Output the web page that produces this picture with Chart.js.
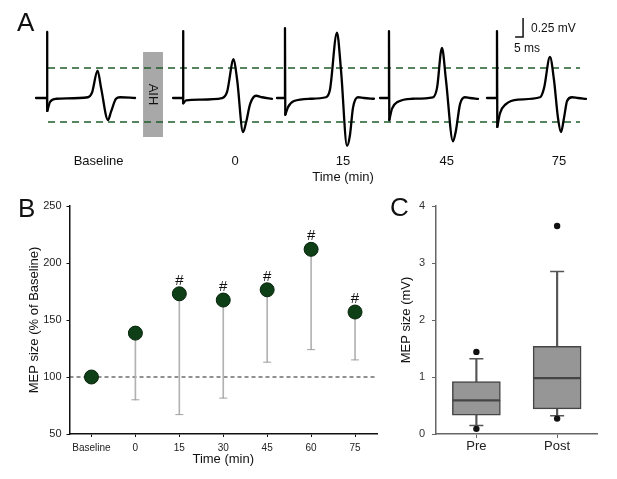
<!DOCTYPE html>
<html>
<head>
<meta charset="utf-8">
<script src="https://cdn.jsdelivr.net/npm/chart.js@4.4.1/dist/chart.umd.min.js"></script>
<style>
  body { margin: 0; background: #fff; }
  #fig { position: relative; width: 617px; height: 479px; overflow: hidden; font-family: "Liberation Sans", Arial, sans-serif; }
  #fig canvas { position: absolute; }
  .panel { position: absolute; font-size: 26px; line-height: 26px; color: #111; }
</style>
</head>
<body>
<div id="fig">
  <canvas id="traces" width="617" height="190" style="left:0px;top:0px"></canvas>
  <canvas id="timecourse" width="385" height="289" style="left:0px;top:190px"></canvas>
  <canvas id="boxes" width="247" height="289" style="left:370px;top:190px"></canvas>
  <div class="panel" style="left:17px;top:9px">A</div>
  <div class="panel" style="left:18px;top:195px">B</div>
  <div class="panel" style="left:390px;top:194px">C</div>
</div>
<script>
Chart.defaults.font.family = '"Liberation Sans", Arial, sans-serif';
Chart.defaults.color = '#111';

// ---- panel A : example MEP traces (time in ms, amplitude in mV) ----
const traceLabels = ['Baseline', '0', '15', '45', '75'];
const traceTitle = 'Time (min)';
const traceOnsetMs = [29.4, 114.4, 178.1, 243.1, 310.6];
const traceLeadMs = [6.9, 6.25, 5.0, 5.6, 6.25];
const artifactTopMv = [0.87, 0.88, 0.92, 0.88, 0.88];
const labelAtMs = [61.6, 146.9, 214.4, 279.2, 349.4];

// [ms after stimulus, mV]
const mepBaseline = [[0.2, -0.17], [1.9, -0.05], [5.6, -0.01], [25.6, 0.01], [28.1, 0.07], [31.6, 0.36], [33.8, 0.13], [38.1, -0.29], [40.0, -0.18], [43.1, -0.01], [45.6, 0.01], [55.0, 0]];
const mep0 = [[0.2, -0.07], [1.9, -0.03], [10.6, -0.02], [24.4, 0], [27.5, 0.08], [31.6, 0.51], [33.8, 0.24], [37.5, -0.45], [39.4, -0.32], [41.9, -0.08], [45.6, 0.03], [49.4, 0.01], [55.6, -0.01]];
const mep15 = [[0.2, -0.22], [1.9, -0.12], [5.6, -0.04], [15.6, -0.01], [25.6, 0.01], [28.1, 0.11], [32.5, 0.86], [35.0, 0.37], [38.8, -0.63], [40.6, -0.49], [42.5, -0.13], [45.6, 0.01], [49.4, 0], [55.6, -0.01]];
const mep45 = [[0.2, -0.29], [1.9, -0.14], [5.6, -0.05], [14.4, -0.01], [27.5, 0.01], [30.0, 0.13], [33.1, 0.66], [35.6, 0.24], [40.0, -0.57], [41.9, -0.42], [44.4, -0.08], [47.5, 0.01], [50.6, 0], [55.6, -0.01]];
const mep75 = [[0.2, -0.38], [1.9, -0.2], [5.6, -0.08], [13.1, -0.02], [26.9, 0.01], [29.4, 0.13], [33.1, 0.54], [35.6, 0.24], [38.1, -0.26], [40.0, -0.45], [41.9, -0.26], [43.8, -0.04], [46.9, 0.01], [50.6, 0], [55.6, -0.01]];
const mepTraces = [mepBaseline, mep0, mep15, mep45, mep75];

const guideMv = [0.395, -0.316];
const guideSpanMs = [30, 362.5];
const aihMs = [89.4, 101.9];
const aihMv = [0.605, -0.513];
const scaleBarAt = [326.9, 0.803];
const scaleBarMs = 5;
const scaleBarMv = 0.25;

// ---- panel B : MEP time course ----
const timeLabels = ['Baseline', '0', '15', '30', '45', '60', '75'];
const mepPercent = [100, 138.5, 173, 167.5, 176.5, 212, 157];
const mepLowerBound = [null, 80, 67, 81.5, 113, 124, 115];
const significant = [false, false, true, true, true, true, true];

// ---- panel C : MEP size box plot ----
const groupLabels = ['Pre', 'Post'];
const whiskerLow = [0.15, 0.32];
const boxQ1 = [0.33, 0.44];
const boxMedian = [0.59, 0.98];
const boxQ3 = [0.92, 1.54];
const whiskerHigh = [1.32, 2.85];
const outlierHigh = [1.44, 3.65];
const outlierLow = [0.09, 0.27];

//=====================================
// panel A
//=====================================
const traceSets = [];
mepTraces.forEach((mep, i) => {
  const on = traceOnsetMs[i];
  traceSets.push({
    data: [{x: on - traceLeadMs[i], y: 0}, {x: on, y: 0}, {x: on, y: artifactTopMv[i]}, {x: on + mep[0][0], y: mep[0][1]}],
    tension: 0, order: 1
  });
  traceSets.push({
    data: mep.map(p => ({x: on + p[0], y: p[1]})),
    cubicInterpolationMode: 'monotone', order: 1
  });
});
traceSets.forEach(d => Object.assign(d, {showLine: true, pointRadius: 0, borderColor: '#000', borderWidth: 2.3, borderJoinStyle: 'round', borderCapStyle: 'round'}));

const guideSets = guideMv.map(v => ({
  data: [{x: guideSpanMs[0], y: v}, {x: guideSpanMs[1], y: v}],
  showLine: true, pointRadius: 0, borderColor: '#1f5c2b', borderWidth: 1.6, borderDash: [7, 5], order: 5
}));

const aihSets = [
  {data: [{x: aihMs[0], y: aihMv[0]}, {x: aihMs[1], y: aihMv[0]}], fill: '+1'},
  {data: [{x: aihMs[0], y: aihMv[1]}, {x: aihMs[1], y: aihMv[1]}], fill: false}
];
aihSets.forEach(d => Object.assign(d, {showLine: true, pointRadius: 0, borderWidth: 0, borderColor: 'rgba(0,0,0,0)', backgroundColor: '#a8a8a8', order: 10}));

const scaleBarSet = {
  data: [{x: scaleBarAt[0] - scaleBarMs, y: scaleBarAt[1]}, {x: scaleBarAt[0], y: scaleBarAt[1]}, {x: scaleBarAt[0], y: scaleBarAt[1] + scaleBarMv}],
  showLine: true, pointRadius: 0, borderColor: '#111', borderWidth: 1.5, tension: 0, order: 1
};

const traceText = {
  id: 'traceText',
  afterDatasetsDraw(chart) {
    const {ctx, scales: {x, y}} = chart;
    ctx.save();
    ctx.fillStyle = '#111';
    ctx.font = '13px "Liberation Sans", Arial, sans-serif';
    ctx.textAlign = 'center';
    ctx.textBaseline = 'middle';
    ctx.translate(x.getPixelForValue((aihMs[0] + aihMs[1]) / 2), y.getPixelForValue((aihMv[0] + aihMv[1]) / 2));
    ctx.rotate(Math.PI / 2);
    ctx.fillText('AIH', 0, 0);
    ctx.restore();

    ctx.save();
    ctx.fillStyle = '#111';
    ctx.font = '12px "Liberation Sans", Arial, sans-serif';
    ctx.textAlign = 'left';
    ctx.textBaseline = 'middle';
    const bx = x.getPixelForValue(scaleBarAt[0]);
    const by = y.getPixelForValue(scaleBarAt[1]);
    ctx.fillText('0.25 mV', bx + 8, y.getPixelForValue(scaleBarAt[1] + scaleBarMv / 2) + 1);
    ctx.fillText('5 ms', x.getPixelForValue(scaleBarAt[0] - scaleBarMs) - 1, by + 12);
    ctx.restore();
  }
};

new Chart(document.getElementById('traces'), {
  type: 'scatter',
  data: {datasets: [...aihSets, ...guideSets, ...traceSets, scaleBarSet]},
  options: {
    responsive: false,
    animation: false,
    layout: {padding: 0},
    plugins: {legend: {display: false}, tooltip: {enabled: false}},
    scales: {
      x: {
        type: 'linear', min: 0, max: 385.6,
        border: {display: false},
        grid: {display: false, drawTicks: false},
        afterBuildTicks: axis => { axis.ticks = labelAtMs.map(v => ({value: v})); },
        afterFit: s => { s.height = 40; },
        ticks: {
          autoSkip: false, maxRotation: 0, padding: 2.5, color: '#111',
          font: {size: 13, lineHeight: 1.3},
          callback: (v, i) => i === 2 ? [traceLabels[i], traceTitle] : traceLabels[i]
        }
      },
      y: {display: false, min: -0.684, max: 1.2895}
    }
  },
  plugins: [traceText]
});

//=====================================
// panel B
//=====================================
const refLine = {
  id: 'refLine',
  beforeDatasetsDraw(chart) {
    const {ctx, chartArea, scales: {y}} = chart;
    const py = y.getPixelForValue(100);
    ctx.save();
    ctx.strokeStyle = '#222';
    ctx.lineWidth = 1;
    ctx.setLineDash([4, 3]);
    ctx.beginPath();
    ctx.moveTo(chartArea.left, py);
    ctx.lineTo(chartArea.right, py);
    ctx.stroke();
    ctx.restore();
  }
};
const hashMarks = {
  id: 'hashMarks',
  afterDatasetsDraw(chart) {
    const {ctx, scales: {x, y}} = chart;
    ctx.save();
    ctx.fillStyle = '#111';
    ctx.font = '15px "Liberation Sans", Arial, sans-serif';
    ctx.textAlign = 'center';
    ctx.textBaseline = 'alphabetic';
    significant.forEach((s, i) => {
      if (s) ctx.fillText('#', x.getPixelForValue(i), y.getPixelForValue(mepPercent[i]) - 9);
    });
    ctx.restore();
  }
};

new Chart(document.getElementById('timecourse'), {
  type: 'bar',
  data: {
    labels: timeLabels,
    datasets: [
      {type: 'line', data: mepPercent, showLine: false, pointRadius: 7, pointBackgroundColor: '#0f3f17', pointBorderColor: '#07240b', pointBorderWidth: 1, order: 1},
      {type: 'line', data: mepLowerBound, showLine: false, pointStyle: 'line', pointRadius: 4, pointBorderColor: '#a0a0a0', pointBorderWidth: 1, order: 2},
      {type: 'bar', data: mepPercent.map((v, i) => mepLowerBound[i] === null ? null : [mepLowerBound[i], v]), backgroundColor: '#b2b2b2', barThickness: 1, order: 3}
    ]
  },
  options: {
    responsive: false,
    animation: false,
    layout: {padding: {top: 16, right: 1.5, left: 0, bottom: 0}},
    plugins: {legend: {display: false}, tooltip: {enabled: false}},
    scales: {
      x: {
        grid: {display: true, drawOnChartArea: false, offset: false, tickLength: 3, tickColor: '#111'},
        border: {color: '#111', width: 1.5},
        ticks: {color: '#222', font: {size: 10}, padding: 5, maxRotation: 0, autoSkip: false},
        title: {display: true, text: 'Time (min)', color: '#111', font: {size: 13}, padding: {top: 0, bottom: 12}},
        afterFit: s => { s.height = 45; }
      },
      y: {
        min: 50, max: 250,
        ticks: {stepSize: 50, color: '#222', font: {size: 11}, padding: 5},
        grid: {display: true, drawOnChartArea: false, tickLength: 3, tickColor: '#111'},
        border: {color: '#111', width: 1.5},
        title: {display: true, text: 'MEP size (% of Baseline)', color: '#111', font: {size: 13}, padding: {top: 27, bottom: 0}},
        afterFit: s => { s.width = 69.5; }
      }
    }
  },
  plugins: [refLine, hashMarks]
});

//=====================================
// panel C
//=====================================
new Chart(document.getElementById('boxes'), {
  type: 'bar',
  data: {
    labels: groupLabels,
    datasets: [
      {type: 'line', data: outlierHigh, showLine: false, pointRadius: 3.2, pointBackgroundColor: '#111', pointBorderWidth: 0, order: 0},
      {type: 'line', data: outlierLow, showLine: false, pointRadius: 3.2, pointBackgroundColor: '#111', pointBorderWidth: 0, order: 0},
      {type: 'line', data: whiskerHigh, showLine: false, pointStyle: 'line', pointRadius: 7, pointBorderColor: '#555', pointBorderWidth: 1.5, order: 1},
      {type: 'line', data: whiskerLow, showLine: false, pointStyle: 'line', pointRadius: 7, pointBorderColor: '#555', pointBorderWidth: 1.5, order: 1},
      {data: boxQ1.map((q, i) => [q, boxMedian[i]]), backgroundColor: '#969696', borderColor: '#454545', borderWidth: 1.5, borderSkipped: false, barThickness: 48, grouped: false, order: 2},
      {data: boxMedian.map((m, i) => [m, boxQ3[i]]), backgroundColor: '#969696', borderColor: '#454545', borderWidth: 1.5, borderSkipped: false, barThickness: 48, grouped: false, order: 2},
      {data: boxQ3.map((q, i) => [q, whiskerHigh[i]]), backgroundColor: '#555', barThickness: 1.5, grouped: false, order: 3},
      {data: whiskerLow.map((w, i) => [w, boxQ1[i]]), backgroundColor: '#555', barThickness: 1.5, grouped: false, order: 3}
    ]
  },
  options: {
    responsive: false,
    animation: false,
    layout: {padding: {top: 16, right: 19.5, left: 0, bottom: 0}},
    plugins: {legend: {display: false}, tooltip: {enabled: false}},
    scales: {
      x: {
        grid: {display: true, drawOnChartArea: false, offset: false, tickLength: 4, tickColor: '#666'},
        border: {color: '#666', width: 1.5},
        ticks: {color: '#222', font: {size: 13}, padding: 1},
        afterFit: s => { s.height = 45; }
      },
      y: {
        min: 0, max: 4,
        ticks: {stepSize: 1, color: '#333', font: {size: 11}, padding: 7},
        grid: {display: true, drawOnChartArea: false, tickLength: 4, tickColor: '#666'},
        border: {color: '#666', width: 1.5},
        title: {display: true, text: 'MEP size (mV)', color: '#111', font: {size: 13}, padding: {top: 29, bottom: 0}},
        afterFit: s => { s.width = 66; }
      }
    }
  }
});
</script>
</body>
</html>
